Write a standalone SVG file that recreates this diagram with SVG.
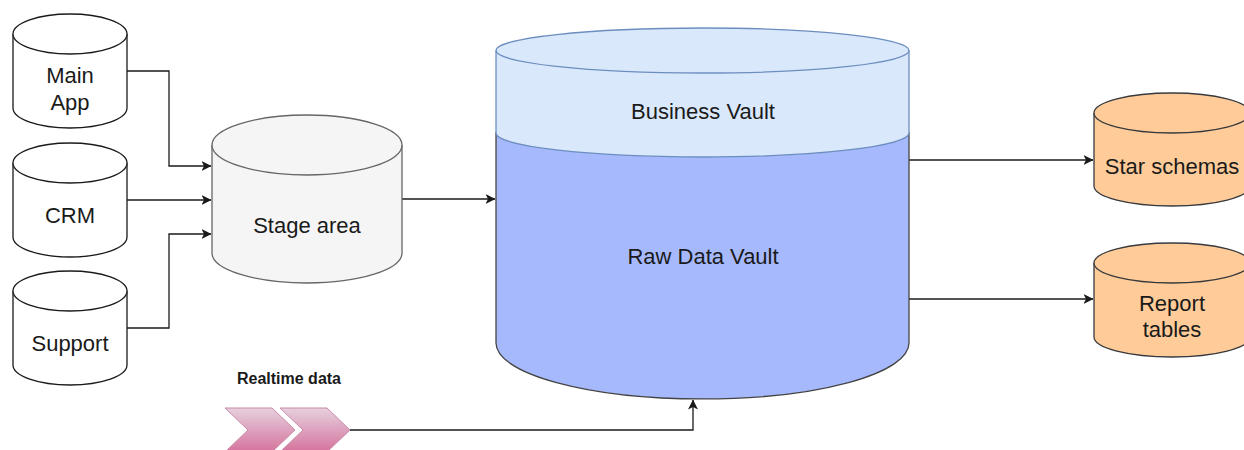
<svg xmlns="http://www.w3.org/2000/svg" width="1244" height="450" viewBox="0 0 1244 450">
<defs>
<style>
text{font-family:"Liberation Sans",Arial,Helvetica,sans-serif;font-size:22px;fill:#1a1a1a;text-anchor:middle;dominant-baseline:central}
.src{fill:#ffffff;stroke:#1a1a1a;stroke-width:1.3}
.stage{fill:#f5f5f5;stroke:#666666;stroke-width:1.3}
.orange{fill:#ffcc99;stroke:#36393d;stroke-width:1.3}
.conn{fill:none;stroke:#1a1a1a;stroke-width:1.3}
</style>
<marker id="arr" viewBox="0 0 10 10" refX="9.5" refY="5" markerWidth="10" markerHeight="10" markerUnits="userSpaceOnUse" orient="auto">
<path d="M0,0 L10,5 L0,10 L2.5,5 Z" fill="#1a1a1a"/>
</marker>
<linearGradient id="pink" x1="0" y1="0" x2="0" y2="1">
<stop offset="0" stop-color="#e6d0de"/>
<stop offset="1" stop-color="#d5739d"/>
</linearGradient>
</defs>
<rect width="1244" height="450" fill="#ffffff"/>

<g id="connectors">
<path class="conn" d="M127,71 H169 V166 H211" marker-end="url(#arr)"/>
<path class="conn" d="M127,200 H211" marker-end="url(#arr)"/>
<path class="conn" d="M127,328 H169 V234 H211" marker-end="url(#arr)"/>
<path class="conn" d="M402,199 H495" marker-end="url(#arr)"/>
<path class="conn" d="M909,160 H1093" marker-end="url(#arr)"/>
<path class="conn" d="M909,299 H1093" marker-end="url(#arr)"/>
<path class="conn" d="M350,430 H693 V400" marker-end="url(#arr)"/>
</g>

<g id="main-app">
<path class="src" d="M13,34 V108 A57,20 0 0 0 127,108 V34 A57,20 0 0 0 13,34 Z"/>
<path class="src" fill="none" d="M13,34 A57,20 0 0 0 127,34"/>
<text x="70" y="75">Main</text>
<text x="70" y="102">App</text>
</g>

<g id="crm">
<path class="src" d="M13,163 V237 A57,20 0 0 0 127,237 V163 A57,20 0 0 0 13,163 Z"/>
<path class="src" fill="none" d="M13,163 A57,20 0 0 0 127,163"/>
<text x="70" y="215">CRM</text>
</g>

<g id="support">
<path class="src" d="M13,291 V365 A57,20 0 0 0 127,365 V291 A57,20 0 0 0 13,291 Z"/>
<path class="src" fill="none" d="M13,291 A57,20 0 0 0 127,291"/>
<text x="70" y="343">Support</text>
</g>

<g id="stage-area">
<path class="stage" d="M212,145 V253 A95,30 0 0 0 402,253 V145 A95,30 0 0 0 212,145 Z"/>
<path class="stage" fill="none" d="M212,145 A95,30 0 0 0 402,145"/>
<text x="307" y="225">Stage area</text>
</g>

<g id="raw-data-vault">
<path d="M496,133 V343 A206.5,56 0 0 0 909,343 V133 Z" fill="#a6b9fc" stroke="#444444" stroke-width="1.3"/>
<text x="703" y="256">Raw Data Vault</text>
</g>

<g id="business-vault">
<path d="M496,50.5 V133 A206.5,24 0 0 0 909,133 V50.5 A206.5,22.5 0 0 0 496,50.5 Z" fill="#dae8fc" stroke="#6c8ebf" stroke-width="1.3"/>
<path d="M496,50.5 A206.5,22.5 0 0 0 909,50.5" fill="none" stroke="#6c8ebf" stroke-width="1.3"/>
<text x="703" y="111">Business Vault</text>
</g>

<g id="star-schemas">
<path class="orange" d="M1094,113 V186 A78,20 0 0 0 1250,186 V113 A78,20 0 0 0 1094,113 Z"/>
<path class="orange" fill="none" d="M1094,113 A78,20 0 0 0 1250,113"/>
<text x="1172" y="166">Star schemas</text>
</g>

<g id="report-tables">
<path class="orange" d="M1094,263 V337 A78,20 0 0 0 1250,337 V263 A78,20 0 0 0 1094,263 Z"/>
<path class="orange" fill="none" d="M1094,263 A78,20 0 0 0 1250,263"/>
<text x="1172" y="303">Report</text>
<text x="1172" y="329">tables</text>
</g>

<g id="realtime-data">
<text x="289" y="378" style="font-size:16px;font-weight:bold">Realtime data</text>
<path d="M225,408 H272 L295,430 L272,452 H225 L248,430 Z" fill="url(#pink)" stroke="#c98aa9" stroke-width="1"/>
<path d="M280,408 H327 L350,430 L327,452 H280 L303,430 Z" fill="url(#pink)" stroke="#c98aa9" stroke-width="1"/>
</g>
</svg>
